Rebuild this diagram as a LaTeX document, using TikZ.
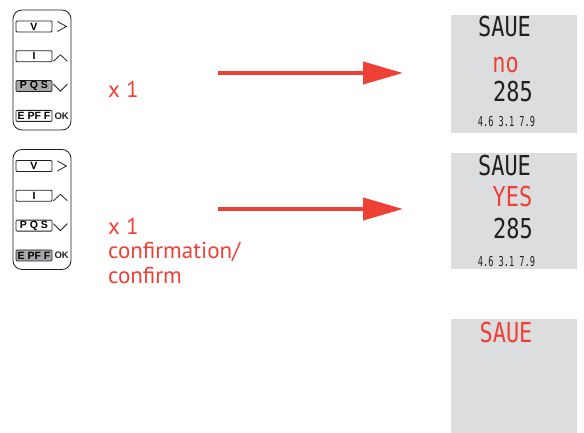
\documentclass[tikz,border=0pt]{standalone}
\usepackage{fontspec}
\setmainfont{PT Sans}
\newfontfamily\keyfont{Liberation Sans}
\newfontfamily\segfont{DejaVu Sans Mono}[FakeStretch=0.8]
\newfontfamily\segsmall{DejaVu Sans Mono}[FakeStretch=0.63]
\usetikzlibrary{arrows.meta,positioning}
\definecolor{sigred}{HTML}{EE4035}
\definecolor{lcdgray}{HTML}{DCDDDF}
\definecolor{keygray}{HTML}{A7A9AC}
\definecolor{inkblack}{HTML}{231F20}

\begin{document}
\begin{tikzpicture}[x=1pt, y=-1pt,
    node distance=18pt,
    keypad/.style={draw=inkblack, line width=0.8pt, rounded corners=9pt,
                   minimum width=58pt, minimum height=120pt},
    keybtn/.style={draw=inkblack, line width=0.8pt, rounded corners=1pt,
                   minimum width=36pt, minimum height=11pt, inner sep=0pt,
                   font=\keyfont\bfseries\fontsize{10.5}{10.5}\selectfont},
    pressed/.style={keybtn, fill=keygray},
    okmark/.style={inner sep=0pt, text=inkblack,
                   font=\keyfont\bfseries\fontsize{9.5}{9.5}\selectfont},
    chev/.style={draw=inkblack, line width=0.8pt},
    lcd/.style={fill=lcdgray, inner sep=0pt, minimum width=126pt},
    seg/.style={inner sep=0pt, text=inkblack,
                font=\segfont\fontsize{27.4}{27.4}\selectfont},
    segline/.style={inner sep=0pt, text=inkblack,
                font=\segsmall\fontsize{13.7}{13.7}\selectfont},
    note/.style={text=sigred, inner sep=0pt, align=left, anchor=base west,
                 font=\fontsize{23}{24.5}\selectfont},
    flow/.style={draw=sigred, fill=sigred, line width=4pt},
    >={Triangle[length=40pt, width=22pt]}]
  \useasboundingbox (0,0) rectangle (584,433);

  % first keypad, PQS pressed
  \node[keypad] (pad1) at (42,70) {};
  \node[keybtn] (v1) at (34,26.5) {V};
  \node[keybtn, below=of v1] (i1) {I};
  \node[pressed, below=of i1] (pqs1) {P Q S};
  \node[keybtn, below=of pqs1] (epff1) {E PF F};
  \node[okmark, right=2pt of epff1] (ok1) {OK};
  \draw[chev] ([shift={(5,-5)}]v1.east) -- ++(9,5) -- ++(-9,5);
  \draw[chev] ([shift={(1,5)}]i1.east) -- ++(7,-6.5) -- ++(7,6.5);
  \draw[chev] ([shift={(1,-2)}]pqs1.east) -- ++(7,7) -- ++(7,-7);

  % second keypad, EPFF pressed
  \node[keypad] (pad2) at (42,209.5) {};
  \node[keybtn] (v2) at (34,166) {V};
  \node[keybtn, below=of v2] (i2) {I};
  \node[keybtn, below=of i2] (pqs2) {P Q S};
  \node[pressed, below=of pqs2] (epff2) {E PF F};
  \node[okmark, right=2pt of epff2] (ok2) {OK};
  \draw[chev] ([shift={(5,-5)}]v2.east) -- ++(9,5) -- ++(-9,5);
  \draw[chev] ([shift={(1,5)}]i2.east) -- ++(7,-6.5) -- ++(7,6.5);
  \draw[chev] ([shift={(1,-2)}]pqs2.east) -- ++(7,7) -- ++(7,-7);

  % key counts (base is the last line)
  \node[note] (press1) at (108,98) {x 1};
  \node[note] (press2) at (108,283) {x 1\\confirmation/\\confirm};

  % arrows
  \coordinate (go1) at (218,73);
  \coordinate (to1) at (403,73);
  \coordinate (go2) at (218,209);
  \coordinate (to2) at (403,209);
  \draw[flow, ->] (go1) -- (to1);
  \draw[flow, ->] (go2) -- (to2);

  % displays
  \node[lcd, minimum height=118pt] (lcd1) at (514,74) {};
  \node[seg] (save1) at (504.5,27) {SAUE};
  \node[seg, text=sigred] (no1) at (505.5,65.5) {no};
  \node[seg] (val1) at (513,92) {285};
  \node[segline] (row1) at (506.5,122) {4.6 3.1 7.9};

  \node[lcd, minimum height=116pt] (lcd2) at (514,211) {};
  \node[seg] (save2) at (504.5,165.5) {SAUE};
  \node[seg, text=sigred] (yes2) at (512.5,197) {YES};
  \node[seg] (val2) at (513,228.5) {285};
  \node[segline] (row2) at (506.5,262) {4.6 3.1 7.9};

  \node[lcd, minimum height=114pt] (lcd3) at (514,376) {};
  \node[seg, text=sigred] (save3) at (506,332.5) {SAUE};
\end{tikzpicture}
\end{document}
